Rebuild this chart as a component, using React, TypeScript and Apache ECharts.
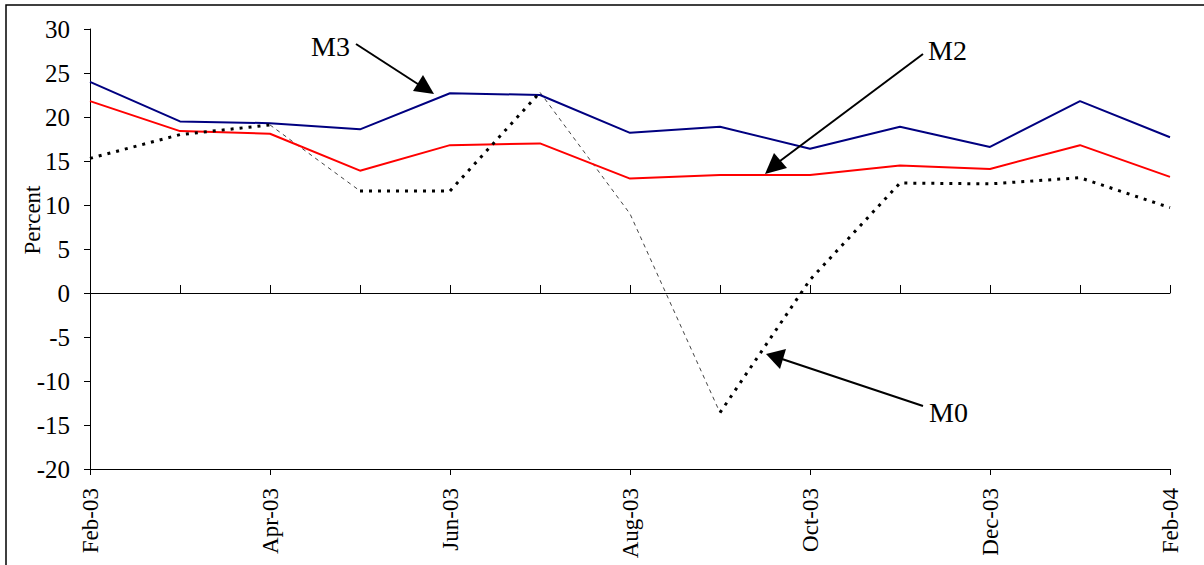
import React, { useEffect, useRef } from "react";
import * as echarts from "echarts";

// Monthly growth rates of money aggregates, percent
const months = [
  "Feb-03", "Mar-03", "Apr-03", "May-03", "Jun-03", "Jul-03", "Aug-03",
  "Sep-03", "Oct-03", "Nov-03", "Dec-03", "Jan-04", "Feb-04",
];
const m3 = [24.0, 19.5, 19.3, 18.6, 22.7, 22.5, 18.2, 18.9, 16.4, 18.9, 16.6, 21.8, 17.7];
const m2 = [21.8, 18.4, 18.1, 13.9, 16.8, 17.0, 13.0, 13.4, 13.4, 14.5, 14.1, 16.8, 13.2];
const m0 = [15.3, 18.0, 19.1, 11.6, 11.6, 22.8, 9.0, -13.6, 1.5, 12.5, 12.4, 13.1, 9.7];

const yTicks = { min: -20, max: 30, step: 5 };

const FONT = "'Liberation Serif', 'Times New Roman', serif";

// Keep only the points of a series between two indices (inclusive)
const span = (arr: number[], from: number, to: number) =>
  arr.map((v, i) => (i >= from && i <= to ? v : null));

export default function App() {
  const ref = useRef<HTMLDivElement>(null);

  useEffect(() => {
    if (!ref.current) return;
    const chart = echarts.init(ref.current, null, { renderer: "svg" });

    const dotted = {
      color: "#000",
      width: 3,
      type: [3, 6] as number[],
      cap: "butt" as const,
    };
    const thinDash = {
      color: "#444",
      width: 1,
      type: [4, 4] as number[],
    };

    const m0Thick = [
      [0, 2],
      [3, 5],
      [7, 12],
    ];
    const m0Thin = [
      [2, 3],
      [5, 7],
    ];

    const lineSeries = (
      name: string,
      data: (number | null)[],
      lineStyle: any,
      z = 2
    ) => ({
      name,
      type: "line",
      data,
      xAxisIndex: 0,
      yAxisIndex: 0,
      showSymbol: false,
      symbol: "none",
      connectNulls: false,
      lineStyle,
      z,
      silent: true,
    });

    const arrow = (
      x1: number, y1: number, x2: number, y2: number,
      head: number[][]
    ) => [
      {
        type: "line",
        shape: { x1, y1, x2, y2 },
        style: { stroke: "#000", lineWidth: 2 },
        z: 100,
      },
      {
        type: "polygon",
        shape: { points: head },
        style: { fill: "#000" },
        z: 100,
      },
    ];

    const label = (text: string, x: number, y: number) => ({
      type: "text",
      x,
      y,
      style: {
        text,
        font: `28px ${FONT}`,
        fill: "#000",
        verticalAlign: "middle",
        align: "left",
      },
      z: 100,
    });

    chart.setOption({
      animation: false,
      backgroundColor: "#fff",
      grid: { left: 90, right: 34, top: 29, bottom: 96 },
      xAxis: [
        {
          type: "category",
          data: months,
          boundaryGap: false,
          position: "bottom",
          axisLine: { onZero: true, lineStyle: { color: "#000", width: 1 } },
          axisTick: { show: true, inside: true, length: 8, interval: 0, lineStyle: { color: "#000" } },
          axisLabel: { show: false },
          splitLine: { show: false },
        },
        {
          type: "category",
          data: months,
          boundaryGap: false,
          position: "bottom",
          axisLine: { onZero: true, lineStyle: { color: "#000", width: 1 } },
          axisTick: { show: true, inside: false, length: 6, interval: 1, lineStyle: { color: "#000" } },
          axisLabel: { show: false },
          splitLine: { show: false },
        },
        {
          type: "category",
          data: months,
          boundaryGap: false,
          position: "bottom",
          axisLine: { show: false, onZero: false },
          axisTick: { show: false },
          axisLabel: {
            show: true,
            interval: 1,
            rotate: 90,
            margin: 19,
            color: "#000",
            fontFamily: FONT,
            fontSize: 23,
          },
          splitLine: { show: false },
        },
      ],
      yAxis: {
        type: "value",
        min: yTicks.min,
        max: yTicks.max,
        interval: yTicks.step,
        axisLine: { show: true, lineStyle: { color: "#000", width: 1 } },
        axisTick: { show: true, inside: false, length: 6, lineStyle: { color: "#000" } },
        axisLabel: { color: "#000", fontFamily: FONT, fontSize: 25, margin: 20 },
        splitLine: { show: false },
      },
      series: [
        lineSeries("M3", m3, { color: "#000080", width: 2 }, 3),
        lineSeries("M2", m2, { color: "#ff0000", width: 2 }, 3),
        ...m0Thin.map(([a, b], i) => lineSeries(`M0 thin ${i}`, span(m0, a, b), thinDash, 2)),
        ...m0Thick.map(([a, b], i) => lineSeries(`M0 ${i}`, span(m0, a, b), dotted, 4)),
      ],
      graphic: [
        // chart frame
        {
          type: "rect",
          shape: { x: 6, y: 5, width: 1210, height: 600 },
          style: { fill: "none", stroke: "#000", lineWidth: 1.5 },
          silent: true,
        },
        // y-axis title
        {
          type: "text",
          x: 32,
          y: 220,
          rotation: Math.PI / 2,
          style: {
            text: "Percent",
            font: `23px ${FONT}`,
            fill: "#000",
            align: "center",
            verticalAlign: "middle",
          },
        },
        label("M3", 311, 46),
        ...arrow(356, 44, 424, 88, [[434, 94], [413, 91], [423, 75]]),
        label("M2", 928, 50),
        ...arrow(923, 54, 776, 164, [[765, 174], [774, 153], [787, 168]]),
        label("M0", 929, 412),
        ...arrow(923, 406, 776, 357, [[766, 354], [786, 349], [780, 369]]),
      ],
    });

    return () => chart.dispose();
  }, []);

  return (
    <div
      ref={ref}
      style={{ position: "fixed", left: 0, top: 0, width: 1204, height: 565 }}
    />
  );
}
